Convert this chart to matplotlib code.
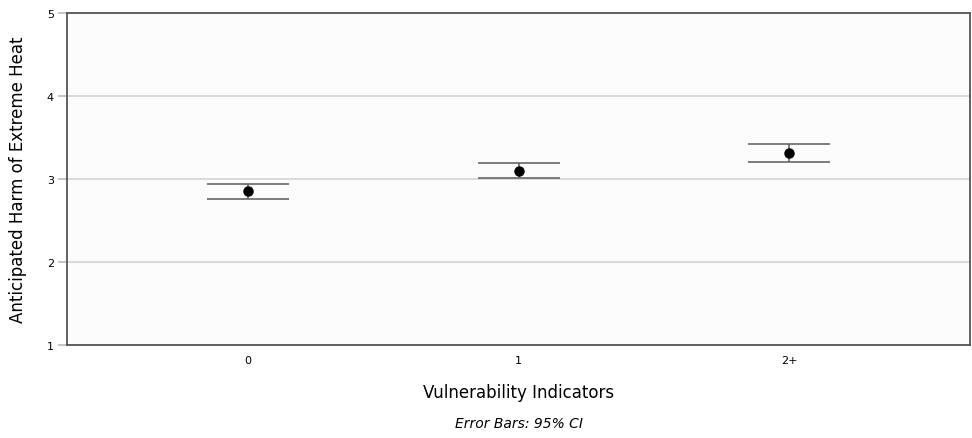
import matplotlib.pyplot as plt
import numpy as np

categories = ['0', '1', '2+']
means = [2.852, 3.096, 3.313]
ci_lower = [2.763, 3.012, 3.200]
ci_upper = [2.936, 3.193, 3.422]

plt.rcParams['font.family'] = ['DejaVu Sans']

fig = plt.figure(figsize=(9.72, 4.39), dpi=100)
ax = fig.add_axes([0.069, 0.212, 0.929, 0.756])
ax.set_facecolor('#fcfcfc')

x = np.arange(len(categories))
means = np.array(means)
err = [means - np.array(ci_lower), np.array(ci_upper) - means]

ax.errorbar(x, means, yerr=err, fmt='o', color='black', markersize=6.5,
            ecolor='#666666', elinewidth=1.2, capsize=29.5, capthick=1.2, zorder=3)

ax.set_xlim(-0.667, 2.667)
ax.set_ylim(1, 5)
ax.set_yticks([1, 2, 3, 4, 5])
ax.set_xticks(x)
ax.set_xticklabels(categories)
ax.yaxis.grid(True, color='#d4d4d4', linewidth=1.2)
ax.set_axisbelow(True)

for s in ax.spines.values():
    s.set_color('#555555')
    s.set_linewidth(1.3)

ax.tick_params(axis='y', length=6.5, color='#bbbbbb', width=1.2, labelsize=8, pad=3)
ax.tick_params(axis='x', length=0, labelsize=8, pad=7)

ax.set_ylabel('Anticipated Harm of Extreme Heat', fontsize=12, labelpad=14)
ax.set_xlabel('Vulnerability Indicators', fontsize=12, labelpad=13)
ax.text(0.5, -0.235, 'Error Bars: 95% CI', transform=ax.transAxes,
        ha='center', va='center', fontsize=10, style='italic')

fig.savefig('out.png', dpi=100)
